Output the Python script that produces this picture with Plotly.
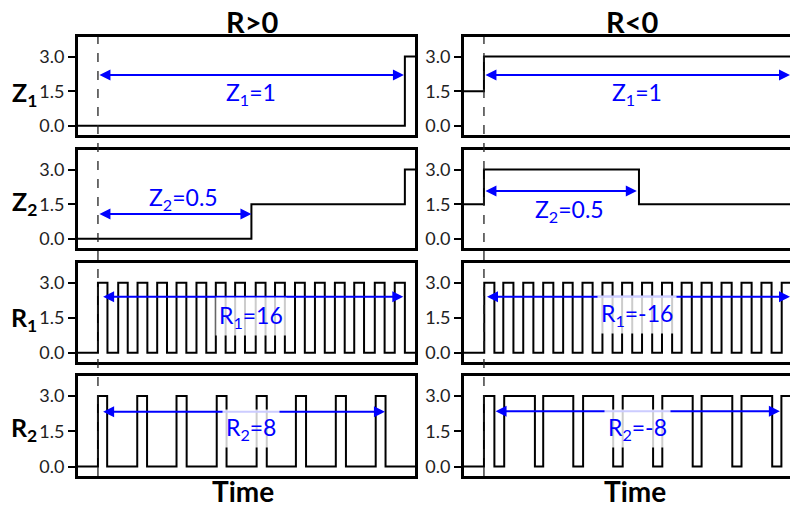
import plotly.graph_objects as go
from plotly.subplots import make_subplots

# ---------------- data (time in units of one period; 0 = dashed reference line) ----------------
t_start = -0.065
t_end_left = 1.033
t_end_right = 0.997

tick_vals = [0.0, 1.5, 3.0]
tick_text = ["0.0", "1.5", "3.0"]

# Z1 signals
z1_pos_t = [-0.065, 1.0, 1.033]
z1_pos_v = [0.0, 3.0, 3.0]
z1_neg_t = [-0.065, 0.0, 0.997]
z1_neg_v = [1.5, 3.0, 3.0]

# Z2 signals
z2_pos_t = [-0.065, 0.5, 1.0, 1.033]
z2_pos_v = [0.0, 1.5, 3.0, 3.0]
z2_neg_t = [-0.065, 0.0, 0.505, 0.997]
z2_neg_v = [1.5, 3.0, 1.5, 1.5]

# R1 pulses (rise, fall times)
r1_pos_rise = [0.000, 0.066, 0.129, 0.193, 0.256, 0.321, 0.384, 0.447,
               0.514, 0.577, 0.642, 0.707, 0.772, 0.835, 0.902, 0.967]
r1_pos_fall = [0.031, 0.097, 0.161, 0.225, 0.288, 0.353, 0.416, 0.479,
               0.546, 0.609, 0.674, 0.739, 0.804, 0.867, 0.934, 1.000]
r1_neg_rise = [0.001, 0.063, 0.128, 0.193, 0.258, 0.321, 0.386, 0.450,
               0.515, 0.580, 0.644, 0.709, 0.774, 0.839, 0.904, 0.970]
r1_neg_fall = [0.034, 0.096, 0.161, 0.226, 0.289, 0.354, 0.419, 0.483,
               0.548, 0.613, 0.677, 0.742, 0.807, 0.872, 0.937, 1.050]

# R2 pulses
r2_pos_rise = [0.000, 0.128, 0.256, 0.387, 0.517, 0.645, 0.775, 0.905]
r2_pos_fall = [0.030, 0.160, 0.289, 0.419, 0.550, 0.678, 0.808, 0.937]
r2_neg_rise = [0.000, 0.066, 0.193, 0.323, 0.452, 0.581, 0.709, 0.839, 0.969]
r2_neg_fall = [0.034, 0.166, 0.291, 0.421, 0.551, 0.680, 0.809, 0.939, 1.050]

# measurement arrows: (row, col, t_from, t_to, y, label, label_t, label_y, has_bg)
arrows = [
    (1, 1, 0.000, 0.997, 2.2, "Z<sub>1</sub>=1", 0.50, 1.40, False),
    (1, 2, 0.000, 0.997, 2.2, "Z<sub>1</sub>=1", 0.50, 1.40, False),
    (2, 1, 0.000, 0.500, 1.07, "Z<sub>2</sub>=0.5", 0.28, 1.75, False),
    (2, 2, 0.000, 0.498, 2.07, "Z<sub>2</sub>=0.5", 0.28, 1.22, False),
    (3, 1, 0.012, 0.995, 2.4, "R<sub>1</sub>=16", 0.50, 1.55, True),
    (3, 2, 0.005, 0.997, 2.4, "R<sub>1</sub>=-16", 0.50, 1.62, True),
    (4, 1, 0.012, 0.935, 2.33, "R<sub>2</sub>=8", 0.50, 1.60, True),
    (4, 2, 0.033, 0.964, 2.35, "R<sub>2</sub>=-8", 0.50, 1.62, True),
]

row_labels = ["<b>Z<sub>1</sub></b>", "<b>Z<sub>2</sub></b>",
              "<b>R<sub>1</sub></b>", "<b>R<sub>2</sub></b>"]
col_titles = ["<b>R&gt;0</b>", "<b>R&lt;0</b>"]
x_title = "<b>Time</b>"

# ---------------- layout geometry ----------------
W, H = 790, 509
row_px = [(37, 135), (150, 248), (263, 362), (376, 476)]
col_px = [(78, 415), (464, 790)]
y_range = [-0.4, 3.85]
FONT = "Lato, 'Open Sans', sans-serif"


def pulses(rises, falls, t0, t1, low=0.0, high=3.0):
    t, v = [t0], [low]
    for r, f in zip(rises, falls):
        t += [r, f]
        v += [high, low]
    t.append(t1)
    v.append(low)
    return t, v


fig = make_subplots(rows=4, cols=2)

signals = {
    (1, 1): (z1_pos_t, z1_pos_v),
    (1, 2): (z1_neg_t, z1_neg_v),
    (2, 1): (z2_pos_t, z2_pos_v),
    (2, 2): (z2_neg_t, z2_neg_v),
    (3, 1): pulses(r1_pos_rise, r1_pos_fall, t_start, t_end_left),
    (3, 2): pulses(r1_neg_rise, r1_neg_fall, t_start, t_end_right),
    (4, 1): pulses(r2_pos_rise, r2_pos_fall, t_start, t_end_left),
    (4, 2): pulses(r2_neg_rise, r2_neg_fall, t_start, t_end_right),
}

for (r, c), (tt, vv) in signals.items():
    fig.add_trace(go.Scatter(x=tt, y=vv, mode="lines", line=dict(color="black", width=2, shape="hv"),
                             showlegend=False, hoverinfo="skip"), row=r, col=c)


def axis_id(r, c):
    n = (r - 1) * 2 + c
    return "" if n == 1 else str(n)


for r in range(1, 5):
    for c in range(1, 3):
        n = axis_id(r, c)
        y0p, y1p = row_px[r - 1]
        x0p, x1p = col_px[c - 1]
        xr = [t_start, t_end_left if c == 1 else t_end_right]
        fig.layout["xaxis" + n].update(
            domain=[x0p / W, min(x1p / W, 1.0)], range=xr, showticklabels=False, ticks="",
            showgrid=False, zeroline=False, showline=True, linewidth=3, linecolor="black", mirror=True)
        fig.layout["yaxis" + n].update(
            domain=[1 - y1p / H, 1 - y0p / H], range=y_range, tickvals=tick_vals, ticktext=tick_text,
            ticks="outside", ticklen=7, tickwidth=1.5, tickcolor="black",
            tickfont=dict(family=FONT, size=18, color="#222"),
            showgrid=False, zeroline=False, showline=True, linewidth=3, linecolor="black",
            mirror=(c == 1))

annotations = []
for (r, c, ta, tb, yy, lab, lt, ly, bg) in arrows:
    n = axis_id(r, c)
    xref, yref = "x" + n, "y" + n
    annotations.append(dict(x=tb, y=yy, ax=ta, ay=yy, xref=xref, yref=yref, axref=xref, ayref=yref,
                            text="", showarrow=True, arrowside="end+start", arrowhead=2,
                            startarrowhead=2, arrowsize=1.1, startarrowsize=1.1, arrowwidth=2,
                            arrowcolor="blue", standoff=0, startstandoff=0))
    annotations.append(dict(x=lt, y=ly, xref=xref, yref=yref, text=lab, showarrow=False,
                            font=dict(family=FONT, size=23, color="blue"),
                            bgcolor="rgba(255,255,255,0.8)" if bg else "rgba(0,0,0,0)", borderpad=3))

row_label_y = [94, 203, 319, 429]
for lab, yp in zip(row_labels, row_label_y):
    annotations.append(dict(x=24 / W, y=1 - yp / H, xref="paper", yref="paper", text=lab, showarrow=False,
                            font=dict(family=FONT, size=25, color="black"), xanchor="center", yanchor="middle"))

for lab, xp in zip(col_titles, [252, 632]):
    annotations.append(dict(x=xp / W, y=1 - 21 / H, xref="paper", yref="paper", text=lab, showarrow=False,
                            font=dict(family=FONT, size=29, color="black"), xanchor="center", yanchor="middle"))
for xp in [243, 635]:
    annotations.append(dict(x=xp / W, y=1 - 491 / H, xref="paper", yref="paper", text=x_title, showarrow=False,
                            font=dict(family=FONT, size=28, color="black"), xanchor="center", yanchor="middle"))

shapes = []
for c in (1, 2):
    shapes.append(dict(type="line", xref="x" + axis_id(1, c), yref="paper", x0=0, x1=0,
                       y0=1 - row_px[3][1] / H, y1=1 - row_px[0][0] / H,
                       line=dict(color="#222", width=1.3, dash="dash")))

fig.update_layout(width=W, height=H, margin=dict(l=0, r=0, t=0, b=0),
                  paper_bgcolor="white", plot_bgcolor="white",
                  annotations=annotations, shapes=shapes, showlegend=False)

fig.write_html("out.html")
